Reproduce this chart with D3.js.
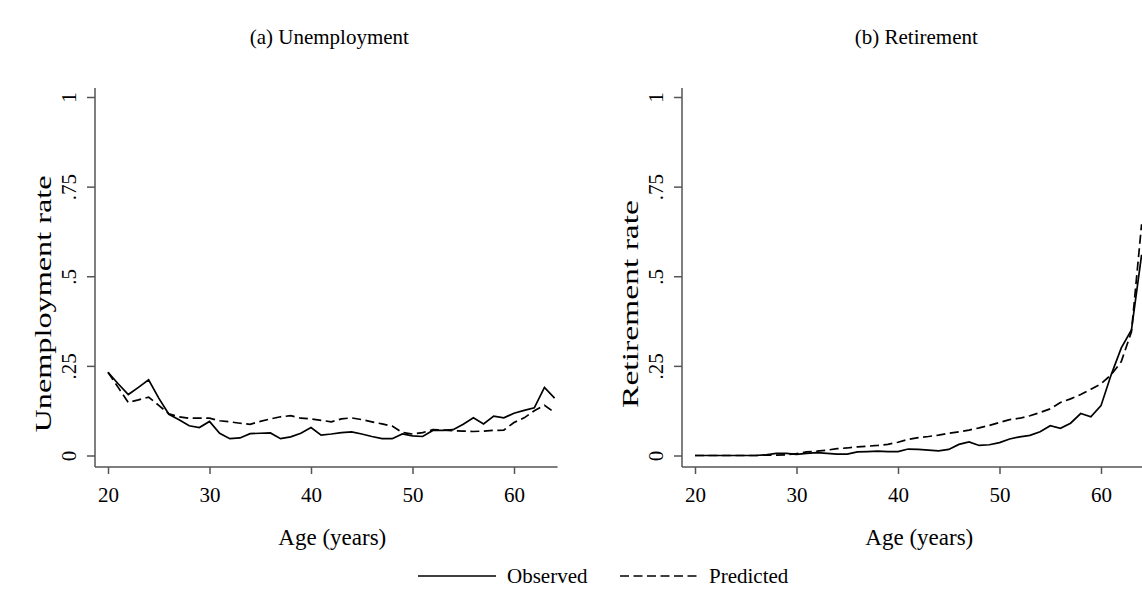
<!DOCTYPE html>
<html>
<head>
<meta charset="utf-8">
<script src="https://cdn.jsdelivr.net/npm/d3@7"></script>
<style>
  body { margin: 0; background: #fff; }
  text { font-family: "Liberation Serif", "DejaVu Serif", serif; fill: #000; }
</style>
</head>
<body>
<svg id="chart"></svg>
<script>
// ages 20..64
const ages = [20,21,22,23,24,25,26,27,28,29,30,31,32,33,34,35,36,37,38,39,40,41,42,
  43,44,45,46,47,48,49,50,51,52,53,54,55,56,57,58,59,60,61,62,63,64];

// (a) unemployment rate
const unempObserved = [0.232,0.200,0.170,0.190,0.211,0.160,0.115,0.100,0.083,0.078,0.095,
  0.062,0.047,0.049,0.061,0.062,0.063,0.047,0.052,0.062,0.078,0.057,0.060,0.064,0.066,
  0.060,0.053,0.047,0.047,0.060,0.055,0.053,0.070,0.070,0.072,0.087,0.105,0.088,0.110,
  0.105,0.118,0.126,0.133,0.190,0.160];
const unempPredicted = [0.232,0.190,0.148,0.155,0.163,0.140,0.116,0.108,0.104,0.104,0.104,
  0.097,0.094,0.090,0.087,0.095,0.102,0.108,0.111,0.104,0.102,0.098,0.094,0.102,0.105,
  0.100,0.094,0.088,0.082,0.064,0.060,0.064,0.072,0.071,0.069,0.068,0.067,0.068,0.070,
  0.071,0.092,0.105,0.125,0.140,0.120];

// (b) retirement rate
const retObserved = [0,0,0,0,0,0,0,0.002,0.006,0.006,0.003,0.006,0.008,0.006,0.004,0.004,
  0.010,0.011,0.012,0.011,0.011,0.018,0.017,0.015,0.013,0.017,0.031,0.038,0.028,0.030,
  0.036,0.046,0.052,0.056,0.066,0.083,0.076,0.090,0.117,0.108,0.139,0.225,0.300,0.350,0.560];
const retPredicted = [0,0,0,0,0,0,0,0.001,0.001,0.002,0.005,0.010,0.012,0.015,0.019,0.021,
  0.024,0.026,0.028,0.031,0.037,0.045,0.050,0.053,0.057,0.062,0.066,0.071,0.077,0.084,
  0.092,0.100,0.104,0.111,0.120,0.130,0.148,0.158,0.170,0.185,0.200,0.225,0.262,0.345,0.645];

const xTicks = [20,30,40,50,60];
const yTicks = [0,0.25,0.5,0.75,1];
const yTickLabels = ["0",".25",".5",".75","1"];

// ytitleLen: the rotated titles come out stretched along their length in the original
const panels = [
  {title: "(a) Unemployment", ytitle: "Unemployment rate", ytitleLen: 257, obs: unempObserved, pred: unempPredicted, left: 95},
  {title: "(b) Retirement", ytitle: "Retirement rate", ytitleLen: 208, obs: retObserved, pred: retPredicted, left: 682}
];

const width = 1142, height = 590;
const svg = d3.select("#chart").attr("width", width).attr("height", height);

const axisColor = "#555";
const dash = "9,4.5";

const y = d3.scaleLinear().domain([0, 1]).range([455.5, 97]);
const axisY = 467;

panels.forEach((p) => {
  // age 20 sits 13px right of the y axis line, 10.15px per year
  const x = d3.scaleLinear().domain([20, 60]).range([p.left + 13, p.left + 13 + 406]);
  const g = svg.append("g");

  // axis lines (Stata style, offset from data)
  g.append("line")
    .attr("x1", p.left).attr("x2", p.left)
    .attr("y1", y(1) - 9).attr("y2", axisY)
    .attr("stroke", axisColor).attr("stroke-width", 1.5);
  g.append("line")
    .attr("x1", p.left).attr("x2", x(64) + 3)
    .attr("y1", axisY).attr("y2", axisY)
    .attr("stroke", axisColor).attr("stroke-width", 1.5);

  // y axis
  const yAxis = g.append("g")
    .attr("transform", `translate(${p.left},0)`)
    .call(d3.axisLeft(y).tickValues(yTicks).tickSize(8).tickPadding(0)
      .tickFormat((d, i) => yTickLabels[i]));
  yAxis.select(".domain").remove();
  yAxis.selectAll(".tick line").attr("stroke", axisColor).attr("stroke-width", 1.5);
  yAxis.selectAll(".tick text")
    .attr("x", null).attr("dy", null)
    .attr("transform", "translate(-19,0) rotate(-90)")
    .attr("text-anchor", "middle")
    .style("font-size", "21px")
    .style("font-family", "'Liberation Serif', serif");

  // x axis
  const xAxis = g.append("g")
    .attr("transform", `translate(0,${axisY})`)
    .call(d3.axisBottom(x).tickValues(xTicks).tickSize(7).tickPadding(0)
      .tickFormat(d3.format("d")));
  xAxis.select(".domain").remove();
  xAxis.selectAll(".tick line").attr("stroke", axisColor).attr("stroke-width", 1.5);
  xAxis.selectAll(".tick text")
    .attr("y", null).attr("dy", null)
    .attr("transform", "translate(0,35)")
    .attr("text-anchor", "middle")
    .style("font-size", "21px")
    .style("font-family", "'Liberation Serif', serif");

  const cx = (p.left + x(64) + 3) / 2;

  // titles
  g.append("text").attr("x", cx + 3).attr("y", 44)
    .attr("text-anchor", "middle").style("font-size", "21px").text(p.title);
  g.append("text").attr("x", cx + 6).attr("y", 545)
    .attr("text-anchor", "middle").style("font-size", "23px").text("Age (years)");
  g.append("text")
    .attr("transform", `translate(${p.left - 44},304) rotate(-90)`)
    .attr("text-anchor", "middle")
    .attr("textLength", p.ytitleLen).attr("lengthAdjust", "spacingAndGlyphs")
    .style("font-size", "23px").text(p.ytitle);

  // lines
  const line = (vals) => d3.line()
    .x((d, i) => x(ages[i]))
    .y((d) => y(d))(vals);

  g.append("path").attr("d", line(p.pred))
    .attr("fill", "none").attr("stroke", "#000").attr("stroke-width", 1.7)
    .attr("stroke-dasharray", dash);
  g.append("path").attr("d", line(p.obs))
    .attr("fill", "none").attr("stroke", "#000").attr("stroke-width", 1.7);
});

// legend
const legend = svg.append("g").attr("transform", "translate(0,576)");
const legendItems = [
  {label: "Observed", dash: null, x: 418},
  {label: "Predicted", dash: dash, x: 620}
];
legendItems.forEach((d) => {
  legend.append("line")
    .attr("x1", d.x).attr("x2", d.x + 78).attr("y1", 0).attr("y2", 0)
    .attr("stroke", "#000").attr("stroke-width", 1.7)
    .attr("stroke-dasharray", d.dash);
  legend.append("text").attr("x", d.x + 89).attr("y", 7)
    .style("font-size", "21px").text(d.label);
});
</script>
</body>
</html>
